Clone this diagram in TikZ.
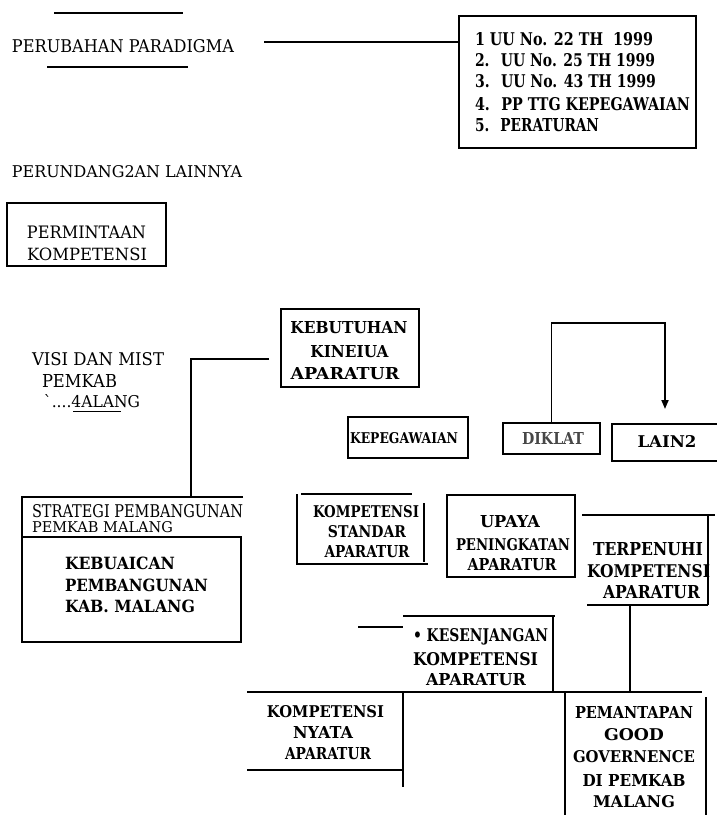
\documentclass[tikz,border=0pt]{standalone}
\usepackage{fontspec}
\setmainfont{DejaVu Serif}
\usepackage{graphicx}
\usetikzlibrary{arrows.meta}
\newcommand\fitr[3]{\resizebox{#1pt}{#2pt}{#3}}
\newcommand\fitb[3]{\resizebox{#1pt}{#2pt}{\bfseries #3}}
\begin{document}
\begin{tikzpicture}[x=1pt,y=-1pt,
  ln/.style={line width=1.8pt},
  thinln/.style={line width=1.2pt},
  box/.style={draw, line width=1.8pt, inner sep=0pt, outer sep=0pt},
  txt/.style={inner sep=0pt, outer sep=0pt, anchor=base},
  txtl/.style={inner sep=0pt, outer sep=0pt, anchor=base west},
  tip/.style={-{Triangle[length=9pt,width=7pt]}}]
\useasboundingbox (0,0) rectangle (716,815);

% ---- top left: paradigm
\draw[ln] (54,13) coordinate (ulA) -- (183,13) coordinate (ulB);
\node[txtl] (pp) at (12,52) {\fitr{222}{13}{PERUBAHAN PARADIGMA}};
\draw[ln] (47,67) coordinate (ulC) -- (188,67) coordinate (ulD);

% ---- law box
\node[box, anchor=north west, minimum width=237pt, minimum height=132pt] (law) at (459,16) {};
\node[txtl] (l1) at (475,45) {\fitb{178}{13}{1 UU No. 22 TH~ 1999}};
\node[txtl] (l2) at (475,66.5) {\fitb{180}{13}{2.~ UU No. 25 TH 1999}};
\node[txtl] (l3) at (475,87.5) {\fitb{181}{13}{3.~ UU No. 43 TH 1999}};
\node[txtl] (l4) at (475,110) {\fitb{215}{13}{4.~ PP TTG KEPEGAWAIAN}};
\node[txtl] (l5) at (475,131.5) {\fitb{124}{13}{5.~ PERATURAN}};
\coordinate (ppEnd) at (264,42);
\draw[ln] (ppEnd) -- (ppEnd -| law.west);

% ---- other left texts
\node[txtl] (pl) at (12,177) {\fitr{230}{12}{PERUNDANG2AN LAINNYA}};
\node[box, anchor=north west, minimum width=159pt, minimum height=63pt] (pk) at (7,203) {};
\node[txtl] (pk1) at (27,238) {\fitr{119}{12.5}{PERMINTAAN}};
\node[txtl] (pk2) at (27,260) {\fitr{120}{12.5}{KOMPETENSI}};

% ---- visi
\node[txtl] (v1) at (32,365) {\fitr{132}{13}{VISI DAN MIST}};
\node[txtl] (v2) at (42,387) {\fitr{75}{13}{PEMKAB}};
\node[txtl] (v3) at (44,407) {\fitr{96}{13}{\textasciigrave....4ALANG}};
\draw[thinln] (73,411.5) coordinate (uA) -- (121,411.5) coordinate (uB);

% ---- kebutuhan
\node[box, anchor=north west, minimum width=138pt, minimum height=78pt] (keb) at (281,309) {};
\node[txt] (k1) at (349,333) {\fitb{117}{12}{KEBUTUHAN}};
\node[txt] (k2) at (349.5,357) {\fitb{78}{12}{KINEIUA}};
\node[txt] (k3) at (345,379) {\fitb{109}{12}{APARATUR}};

% ---- strategi
\coordinate (sTL) at (22,497);
\coordinate (sTR) at (243,497);
\coordinate (sTop) at (191,497);
\draw[ln] (sTR) -- (sTL) -- (22,642);
\node[box, anchor=north west, minimum width=219pt, minimum height=105pt] (kbc) at (22,537) {};
\node[txtl] (s1) at (32,517) {\fitr{211}{13}{STRATEGI PEMBANGUNAN}};
\node[txtl] (s2) at (32,532) {\fitr{141}{11}{PEMKAB MALANG}};
\node[txtl] (b1) at (65,569) {\fitb{110}{12.5}{KEBUAICAN}};
\node[txtl] (b2) at (65,591) {\fitb{143}{12.5}{PEMBANGUNAN}};
\node[txtl] (b3) at (65,612) {\fitb{130}{12.5}{KAB. MALANG}};
\coordinate (kebIn) at (269,359);
\draw[ln] (kebIn) -| (sTop);

% ---- kepegawaian, diklat, lain2
\node[box, anchor=north west, minimum width=120pt, minimum height=41pt] (kpg) at (348,417) {};
\node[txt] (kpgt) at (404,443) {\fitb{108}{11}{KEPEGAWAIAN}};
\node[box, anchor=north west, minimum width=97pt, minimum height=31pt] (dik) at (503,423) {};
\node[txt, text=black!72] (dikt) at (553,444) {\fitb{62}{12}{DIKLAT}};
\draw[ln] (718,424) coordinate (lTR) -| (612,461) -- (718,461) coordinate (lBR);
\node[txt] (lain) at (667,447) {\fitb{59}{12}{LAIN2}};
\coordinate (dkTop) at (665,323);
\coordinate (lainIn) at (665,409);
\draw[ln, tip] (dik.north) |- (dkTop) -- (lainIn);

% ---- kompetensi standar
\draw[ln] (301,494) -- (412,494);
\draw[ln] (297,494) -- (297,564) -- (428,564);
\draw[ln] (424,503) -- (424,562);
\node[txt] (ks1) at (366,517) {\fitb{106}{12}{KOMPETENSI}};
\node[txt] (ks2) at (367,537) {\fitb{78}{12}{STANDAR}};
\node[txt] (ks3) at (367,557) {\fitb{85}{12}{APARATUR}};

% ---- upaya
\node[box, anchor=north west, minimum width=128pt, minimum height=82pt] (upy) at (447,495) {};
\node[txt] (u1) at (510,527) {\fitb{60}{12}{UPAYA}};
\node[txt] (u2) at (513,550) {\fitb{114}{12}{PENINGKATAN}};
\node[txt] (u3) at (512,570) {\fitb{89}{12}{APARATUR}};

% ---- terpenuhi
\draw[ln] (582,515) -- (715,515);
\draw[ln] (708,515) -- (708,605);
\draw[ln] (587,605) coordinate (tBL) -- (708,605);
\node[txt] (t1) at (648,555) {\fitb{110}{13}{TERPENUHI}};
\node[txt] (t2) at (648.5,577) {\fitb{123}{13}{KOMPETENSI}};
\node[txt] (t3) at (651.5,598) {\fitb{97}{13}{APARATUR}};
\coordinate (tOut) at (630,605);
\coordinate (gIn) at (630,692);
\draw[ln] (tOut) -- (gIn);

% ---- kesenjangan
\draw[ln] (403,616) -- (555,616);
\draw[ln] (553,616) -- (553,692);
\draw[ln] (358,627) -- (403,627);
\node[txtl] (g1) at (413,641) {\fitb{135}{13}{\textbullet\ KESENJANGAN}};
\node[txt] (g2) at (475.5,665) {\fitb{125}{13}{KOMPETENSI}};
\node[txt] (g3) at (476,685) {\fitb{100}{12}{APARATUR}};

% ---- bottom
\draw[ln] (247,692) -- (702,692);
\draw[ln] (403,692) -- (403,787);
\node[txt] (n1) at (325.5,717) {\fitb{117}{12}{KOMPETENSI}};
\node[txt] (n2) at (323,738) {\fitb{60}{12}{NYATA}};
\node[txt] (n3) at (328,759) {\fitb{86}{12}{APARATUR}};
\draw[ln] (247,770) -- (403,770);

\draw[ln] (565,692) -- (565,816);
\draw[ln] (706,697) -- (706,816);
\node[txt] (p1) at (634,718) {\fitb{118}{12}{PEMANTAPAN}};
\node[txt] (p2) at (634,740) {\fitb{60}{12}{GOOD}};
\node[txt] (p3) at (634,762) {\fitb{122}{12}{GOVERNENCE}};
\node[txt] (p4) at (634,786) {\fitb{103}{12}{DI PEMKAB}};
\node[txt] (p5) at (634,807) {\fitb{82}{12}{MALANG}};
\end{tikzpicture}
\end{document}
